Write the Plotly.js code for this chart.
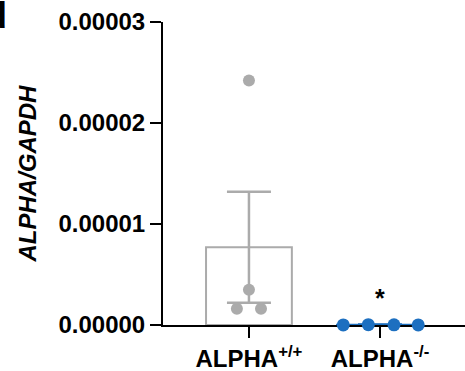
<!DOCTYPE html>
<html>
<head>
<meta charset="utf-8">
<script src="https://cdn.plot.ly/plotly-3.0.1.min.js"></script>
<style>html,body{margin:0;padding:0;background:#fff;}#chart{width:465px;height:371px;}</style>
</head>
<body>
<div id="chart"></div>
<script>
// ---- data ----
const categories = ['ALPHA<sup>+/+</sup>', 'ALPHA<sup>-/-</sup>'];
const means = [0.0000077, 0.00000002];
const sems = [0.0000055, 0.00000001];
const wtValues = [0.0000242, 0.0000035, 0.0000016, 0.0000016];
const wtOffsets = [0, 0, -0.092, 0.092];
const koValues = [0.00000001, 0.00000003, 0.00000002, 0.00000001];
const koOffsets = [-0.28, -0.089, 0.107, 0.292];
const yTickVals = [0, 0.00001, 0.00002, 0.00003];
const yTitle = 'ALPHA/GAPDH';
const sigMark = '*';

const gray = '#ababab';
const blue = '#1c6fc0';
const font = 'Liberation Sans, Arial, sans-serif';

const traces = [
  {type:'bar', x:[0], y:[means[0]], width:0.655,
   marker:{color:'rgba(0,0,0,0)', line:{color:gray, width:2}},
   error_y:{type:'data', array:[sems[0]], visible:true, color:gray, thickness:2.5, width:22},
   hoverinfo:'skip'},
  {type:'bar', x:[1], y:[means[1]], width:0.655,
   marker:{color:'rgba(0,0,0,0)', line:{color:blue, width:2}},
   error_y:{type:'data', array:[sems[1]], visible:true, color:blue, thickness:3, width:22},
   hoverinfo:'skip'},
  {type:'scatter', mode:'markers', x:wtOffsets.map(o => 0 + o), y:wtValues,
   marker:{color:gray, size:12}, cliponaxis:false},
  {type:'scatter', mode:'markers', x:koOffsets.map(o => 1 + o), y:koValues,
   marker:{color:blue, size:13}, cliponaxis:false}
];

const layout = {
  width:465, height:371,
  margin:{l:163, r:0, t:22, b:46},
  paper_bgcolor:'#fff', plot_bgcolor:'#fff',
  showlegend:false,
  barmode:'overlay',
  font:{family:font, color:'#000'},
  xaxis:{range:[-0.656, 1.649], showline:true, linewidth:2, linecolor:'#000',
    ticks:'outside', ticklen:11, tickwidth:2, tickcolor:'#000',
    tickvals:[0,1], ticktext:categories, showgrid:false, zeroline:false,
    tickfont:{size:24, family:font, weight:'bold'}, layer:'below traces'},
  yaxis:{range:[0, 0.00003], showline:true, linewidth:2, linecolor:'#000',
    ticks:'outside', ticklen:11, tickwidth:2, tickcolor:'#000',
    tickvals:yTickVals, tickformat:'.5f', showgrid:false, zeroline:false,
    tickfont:{size:24, family:font, weight:'bold'}, layer:'below traces'},
  annotations:[
    {text:'<b><i>'+yTitle+'</i></b>', textangle:-90, xref:'paper', yref:'paper',
     x:-0.45, y:0.5, xanchor:'center', yanchor:'middle', showarrow:false,
     font:{size:24, family:font, color:'#000'}},
    {text:'<b>'+sigMark+'</b>', xref:'x', yref:'y', x:1, y:0.0000027,
     xanchor:'center', yanchor:'middle', showarrow:false,
     font:{size:25, family:font, color:'#000'}},
    {text:'<b>d</b>', xref:'paper', yref:'paper', x:-0.51, y:1.095,
     xanchor:'right', yanchor:'top', showarrow:false,
     font:{size:36, family:font, color:'#000'}}
  ]
};

Plotly.newPlot('chart', traces, layout, {staticPlot:true, displayModeBar:false});
</script>
</body>
</html>
